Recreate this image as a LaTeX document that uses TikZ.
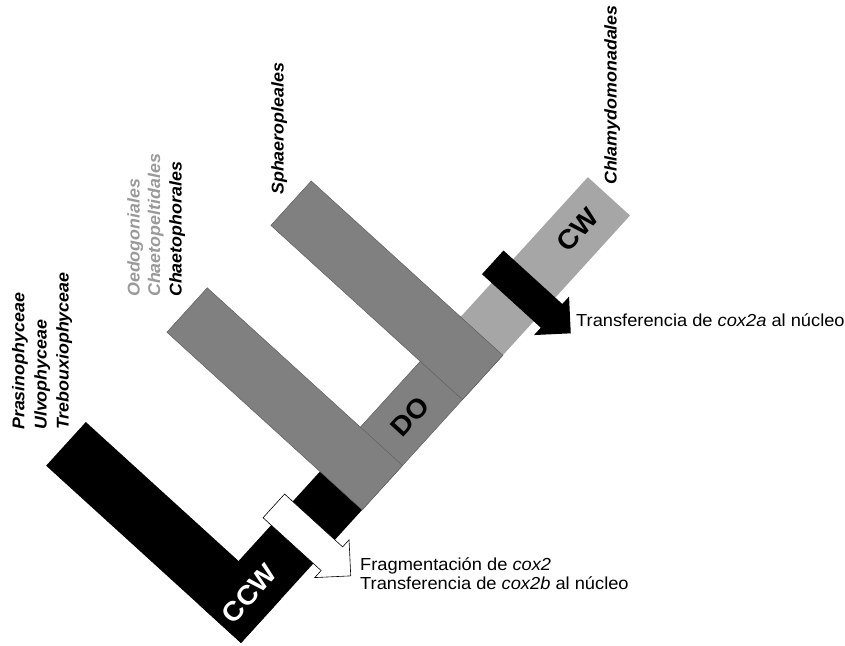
\documentclass[tikz,border=0pt]{standalone}
\usepackage{fontspec}
\setmainfont{Liberation Sans}[FakeStretch=1.05]
\definecolor{branchgray}{HTML}{808080}
\definecolor{cwgray}{HTML}{A6A6A6}
\definecolor{edgegray}{HTML}{606060}
\definecolor{taxgray}{HTML}{9A9A9A}
\tikzset{
  graybar/.style={fill=branchgray, draw=edgegray, line width=0.5pt},
  taxon/.style={rotate=90, anchor=base west, inner sep=0pt, font=\fontsize{17}{20}\selectfont\bfseries\itshape},
  cladename/.style={rotate=47.7, inner sep=0pt, font=\fontsize{27}{32}\selectfont\bfseries},
  arrowtext/.style={anchor=base west, inner sep=0pt, font=\fontsize{17.4}{20}\selectfont}
}

\begin{document}
\begin{tikzpicture}[x=1pt, y=1pt]
\useasboundingbox (0,0) rectangle (845,645);

\begin{scope}[shift={(241,2)}, rotate=47.7]
\fill[black] (0,0) rectangle (181,57);
\fill[black] (0,0) rectangle (59,263.5);
\path[graybar] (181,0) rectangle (389,57);
\fill[cwgray] (389,0) rectangle (578,57);
\path[graybar] (180,0) rectangle (240,264);
\path[graybar] (329,0) rectangle (389,259);
\draw[fill=white, line width=0.6pt] (107.5,68) -- (139.5,68) -- (139.5,-10.5) -- (149,-10.5) -- (123.5,-36) -- (98,-10.5) -- (107.5,-10.5) -- cycle;
\fill[black] (435,70) -- (467,70) -- (467,-9.5) -- (477,-9.5) -- (451,-35.5) -- (425,-9.5) -- (435,-9.5) -- cycle;
\node[cladename, text=white] (ccw) at (42,27) {CCW};
\node[cladename] (do) at (281,27) {DO};
\node[cladename] (cw) at (532,29) {CW};
\end{scope}

\node[taxon] (prasino) at (24.5,215) {Prasinophyceae};
\node[taxon] (ulvo) at (46.5,215) {Ulvophyceae};
\node[taxon] (trebou) at (68.5,215) {Trebouxiophyceae};
\node[taxon, text=taxgray] (oedog) at (139.5,348) {Oedogoniales};
\node[taxon, text=taxgray] (chaetopel) at (160,348) {Chaetopeltidales};
\node[taxon] (chaetoph) at (181.5,348) {Chaetophorales};
\node[taxon] (sphaero) at (283.5,450) {Sphaeropleales};
\node[taxon] (chlamy) at (616.5,460) {Chlamydomonadales};

\node[arrowtext] (cox2a) at (576,318.5) {Transferencia de \textit{cox2a} al núcleo};
\node[arrowtext] (frag) at (360,75) {Fragmentación de \textit{cox2}};
\node[arrowtext] (cox2b) at ([yshift=-19.5pt]frag.base west) {Transferencia de \textit{cox2b} al núcleo};
\end{tikzpicture}
\end{document}
